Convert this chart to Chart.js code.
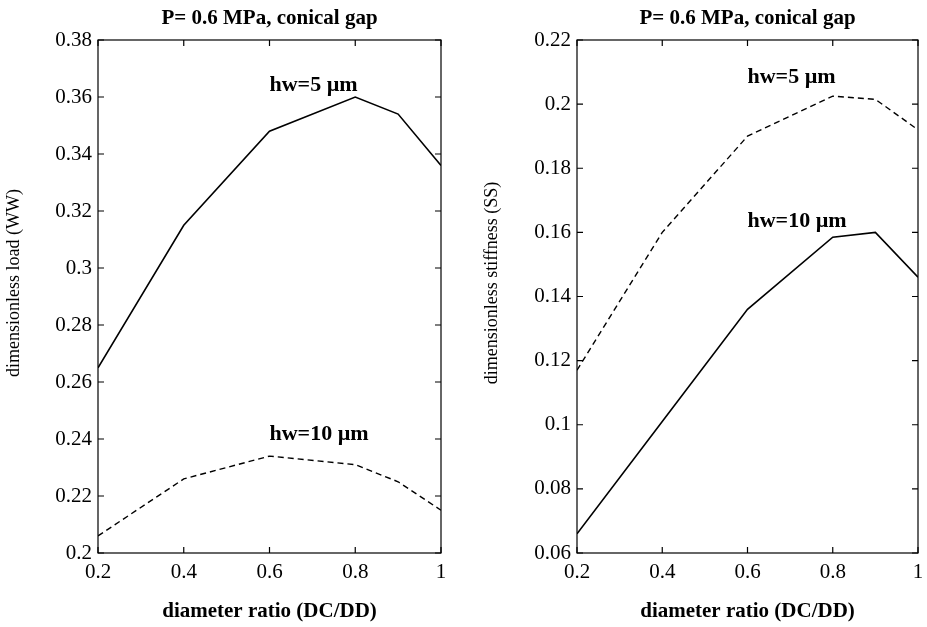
<!DOCTYPE html>
<html>
<head>
<meta charset="utf-8">
<script src="https://cdn.jsdelivr.net/npm/chart.js@4"></script>
<style>
  html, body { margin: 0; padding: 0; background: #fff; }
  #wrap { position: relative; width: 927px; height: 627px; }
  .box { position: absolute; top: 0; height: 627px; }
  #leftBox { left: 0; width: 460px; }
  #rightBox { left: 460px; width: 467px; }
</style>
</head>
<body>
<div id="wrap">
  <div class="box" id="leftBox"><canvas id="loadChart"></canvas></div>
  <div class="box" id="rightBox"><canvas id="stiffChart"></canvas></div>
</div>
<script>
// diameter ratio values (DC/DD)
const ratios = [0.2, 0.4, 0.6, 0.8, 0.9, 1.0];

// dimensionless load (WW)
const load_hw5 = [0.265, 0.315, 0.348, 0.360, 0.354, 0.336];
const load_hw10 = [0.206, 0.226, 0.234, 0.231, 0.225, 0.215];

// dimensionless stiffness (SS)
const stiff_hw5 = [0.117, 0.160, 0.190, 0.2025, 0.2015, 0.192];
const stiff_hw10 = [0.066, 0.101, 0.136, 0.1585, 0.160, 0.146];

const xTicks = [0.2, 0.4, 0.6, 0.8, 1.0];
const loadTicks = [0.2, 0.22, 0.24, 0.26, 0.28, 0.3, 0.32, 0.34, 0.36, 0.38];
const stiffTicks = [0.06, 0.08, 0.1, 0.12, 0.14, 0.16, 0.18, 0.2, 0.22];

const titleText = 'P= 0.6 MPa, conical gap';
const SERIF = '"Liberation Serif", "Times New Roman", serif';

const fmt = v => String(Number(v.toFixed(2)));

// frame, inward ticks, title, y label and curve labels
const framePlugin = {
    id: 'frame',
    afterDatasetsDraw(chart, args, opts) {
        const ctx = chart.ctx;
        const a = chart.chartArea;
        const xs = chart.scales.x, ys = chart.scales.y;
        ctx.save();
        ctx.strokeStyle = '#000';
        ctx.lineWidth = 1.2;
        ctx.strokeRect(a.left, a.top, a.right - a.left, a.bottom - a.top);
        ctx.beginPath();
        opts.xt.forEach(v => {
            const px = xs.getPixelForValue(v);
            ctx.moveTo(px, a.bottom); ctx.lineTo(px, a.bottom - 6);
            ctx.moveTo(px, a.top); ctx.lineTo(px, a.top + 6);
        });
        opts.yt.forEach(v => {
            const py = ys.getPixelForValue(v);
            ctx.moveTo(a.left, py); ctx.lineTo(a.left + 6, py);
            ctx.moveTo(a.right, py); ctx.lineTo(a.right - 6, py);
        });
        ctx.stroke();
        ctx.fillStyle = '#000';
        ctx.textBaseline = 'middle';

        ctx.font = 'bold 21px ' + SERIF;
        ctx.textAlign = 'center';
        ctx.fillText(titleText, (a.left + a.right) / 2, 19);

        ctx.save();
        ctx.translate(opts.yTitleX, 283);
        ctx.rotate(-Math.PI / 2);
        ctx.font = '18px ' + SERIF;
        ctx.fillText(opts.yLabel, 0, 0);
        ctx.restore();

        ctx.font = 'bold 22px ' + SERIF;
        ctx.textAlign = 'left';
        opts.notes.forEach(n => {
            ctx.fillText(n.text, xs.getPixelForValue(n.x), ys.getPixelForValue(n.y));
        });
        ctx.restore();
    }
};

function makeChart(id, yLabel, solid, dashed, yMin, yMax, yt, notes, padRight, yWidth, yTitleX) {
    const ctx = document.getElementById(id).getContext('2d');
    return new Chart(ctx, {
        type: 'line',
        data: {
            datasets: [{
                data: ratios.map((r, i) => ({ x: r, y: solid[i] })),
                borderColor: '#000',
                borderWidth: 1.6,
                pointRadius: 0,
                tension: 0
            }, {
                data: ratios.map((r, i) => ({ x: r, y: dashed[i] })),
                borderColor: '#000',
                borderWidth: 1.4,
                borderDash: [6, 4],
                pointRadius: 0,
                tension: 0
            }]
        },
        options: {
            responsive: true,
            maintainAspectRatio: false,
            animation: false,
            layout: { padding: { left: 0, right: padRight, top: 40, bottom: 0 } },
            plugins: {
                legend: { display: false },
                tooltip: { enabled: false },
                title: { display: false },
                frame: { xt: xTicks, yt: yt, notes: notes, yLabel: yLabel, yTitleX: yTitleX }
            },
            scales: {
                x: {
                    type: 'linear',
                    min: 0.2,
                    max: 1.0,
                    afterBuildTicks: s => { s.ticks = xTicks.map(v => ({ value: v })); },
                    afterFit: s => { s.height = 74; s.paddingLeft = 0; s.paddingRight = 0; },
                    grid: { display: false, drawTicks: false },
                    border: { display: false },
                    ticks: {
                        color: '#000',
                        padding: 7,
                        maxRotation: 0,
                        font: { family: SERIF, size: 21 },
                        callback: v => fmt(v)
                    },
                    title: {
                        display: true,
                        text: 'diameter ratio (DC/DD)',
                        color: '#000',
                        font: { family: SERIF, size: 21, weight: 'bold' },
                        padding: { top: 0, bottom: 3 }
                    }
                },
                y: {
                    min: yMin,
                    max: yMax,
                    afterBuildTicks: s => { s.ticks = yt.map(v => ({ value: v })); },
                    afterFit: s => { s.width = yWidth; },
                    grid: { display: false, drawTicks: false },
                    border: { display: false },
                    ticks: {
                        color: '#000',
                        padding: 6,
                        font: { family: SERIF, size: 21 },
                        callback: v => fmt(v)
                    }
                }
            }
        },
        plugins: [framePlugin]
    });
}

makeChart('loadChart', 'dimensionless load (WW)', load_hw5, load_hw10, 0.2, 0.38, loadTicks,
    [{ text: 'hw=5 \u00b5m', x: 0.6, y: 0.364 }, { text: 'hw=10 \u00b5m', x: 0.6, y: 0.2415 }],
    19, 98, 14);

makeChart('stiffChart', 'dimensionless stiffness (SS)', stiff_hw10, stiff_hw5, 0.06, 0.22, stiffTicks,
    [{ text: 'hw=5 \u00b5m', x: 0.6, y: 0.2085 }, { text: 'hw=10 \u00b5m', x: 0.6, y: 0.1635 }],
    9, 117, 32);
</script>
</body>
</html>
